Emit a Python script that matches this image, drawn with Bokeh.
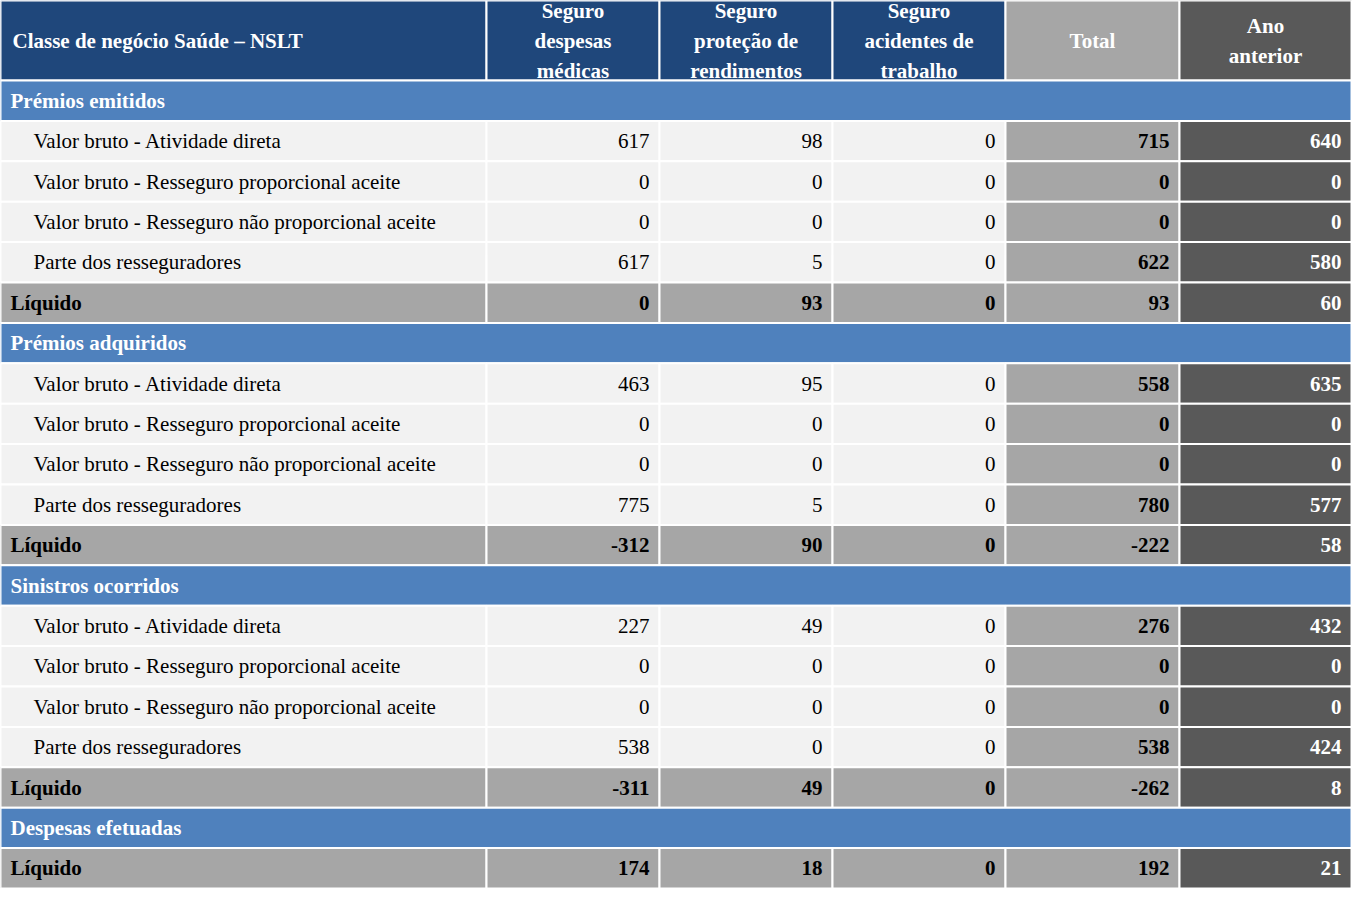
from bokeh.plotting import figure
from bokeh.models import Range1d
from bokeh.core.properties import value
from bokeh.embed import file_html
from bokeh.resources import INLINE

col_headers = ["Classe de negócio Saúde – NSLT", "Seguro\ndespesas\nmédicas",
               "Seguro\nproteção de\nrendimentos", "Seguro\nacidentes de\ntrabalho",
               "Total", "Ano\nanterior"]
sub_labels = ["Valor bruto - Atividade direta",
              "Valor bruto - Resseguro proporcional aceite",
              "Valor bruto - Resseguro não proporcional aceite",
              "Parte dos resseguradores", "Líquido"]
sections = ["Prémios emitidos", "Prémios adquiridos", "Sinistros ocorridos", "Despesas efetuadas"]
premios_emitidos = [[617, 98, 0, 715, 640], [0, 0, 0, 0, 0], [0, 0, 0, 0, 0],
                    [617, 5, 0, 622, 580], [0, 93, 0, 93, 60]]
premios_adquiridos = [[463, 95, 0, 558, 635], [0, 0, 0, 0, 0], [0, 0, 0, 0, 0],
                      [775, 5, 0, 780, 577], [-312, 90, 0, -222, 58]]
sinistros = [[227, 49, 0, 276, 432], [0, 0, 0, 0, 0], [0, 0, 0, 0, 0],
             [538, 0, 0, 538, 424], [-311, 49, 0, -262, 8]]
despesas = [[174, 18, 0, 192, 21]]

# table rows: (kind, label, values)
rows = []
for name, block in zip(sections, [premios_emitidos, premios_adquiridos, sinistros, despesas]):
    rows.append(("section", name, None))
    labels = sub_labels if len(block) == 5 else ["Líquido"]
    for lab, vals in zip(labels, block):
        rows.append(("liquido" if lab == "Líquido" else "data", lab, vals))

W, H = 1352, 888
xs = [0, 486, 659, 832, 1005, 1179, 1351]
head_h = 80
row_h = (H - head_h) / len(rows)
FONT = value("Liberation Sans Narrow")

p = figure(width=W, height=H, x_range=Range1d(0, W), y_range=Range1d(H, 0),
           output_backend="svg", toolbar_location=None, min_border=0)
p.axis.visible = False
p.grid.visible = False
p.outline_line_color = None

BLUE_D, BLUE, LIGHT, GRAY, DARK = "#1F477B", "#4F81BD", "#F2F2F2", "#A6A6A6", "#595959"

L, R, T, B, C = [], [], [], [], []
def cell(l, r, t, b, c):
    L.append(l); R.append(r); T.append(t); B.append(b); C.append(c)

head_cols = [BLUE_D, BLUE_D, BLUE_D, BLUE_D, GRAY, DARK]
for j in range(6):
    cell(xs[j], xs[j + 1], 0, head_h, head_cols[j])
for i, (kind, lab, vals) in enumerate(rows):
    t = head_h + i * row_h
    b = t + row_h
    if kind == "section":
        cell(xs[0], xs[6], t, b, BLUE)
        continue
    for j in range(6):
        if j == 5:
            c = DARK
        elif j == 4 or kind == "liquido":
            c = GRAY
        else:
            c = LIGHT
        cell(xs[j], xs[j + 1], t, b, c)
p.quad(left=L, right=R, top=T, bottom=B, fill_color=C, line_color="white", line_width=2)

# header text
p.text(x=[12], y=[head_h / 2], text=[col_headers[0]], text_font=FONT, text_font_size="21px",
       text_font_style="bold", text_color="white", text_baseline="middle")
hx = [(xs[j] + xs[j + 1]) / 2 for j in range(1, 6)]
p.text(x=hx, y=[head_h / 2] * 5, text=col_headers[1:], text_font=FONT, text_font_size="21px",
       text_font_style="bold", text_color="white", text_baseline="middle", text_align="center",
       text_line_height=1.25)

for i, (kind, lab, vals) in enumerate(rows):
    yc = head_h + (i + 0.5) * row_h
    if kind == "section":
        p.text(x=[10], y=[yc], text=[lab], text_font=FONT, text_font_size="21px",
               text_font_style="bold", text_color="white", text_baseline="middle")
        continue
    bold = "bold" if kind == "liquido" else "normal"
    p.text(x=[10 if kind == "liquido" else 33], y=[yc], text=[lab], text_font=FONT,
           text_font_size="21px", text_font_style=bold, text_color="black", text_baseline="middle")
    for j, v in enumerate(vals):
        st = "bold" if (kind == "liquido" or j >= 3) else "normal"
        col = "white" if j == 4 else "black"
        p.text(x=[xs[j + 2] - 10], y=[yc], text=[str(v)], text_font=FONT, text_font_size="21px",
               text_font_style=st, text_color=col, text_baseline="middle", text_align="right")

open("out.html", "w").write(file_html(p, INLINE))
